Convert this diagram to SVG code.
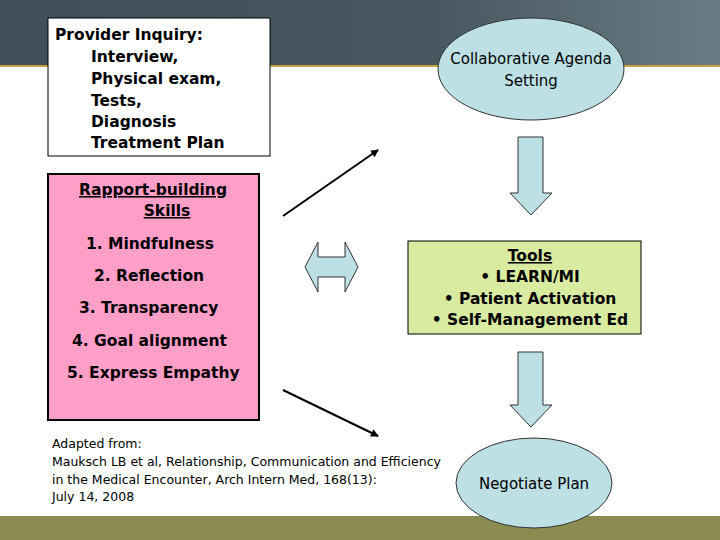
<svg xmlns="http://www.w3.org/2000/svg" width="720" height="540" viewBox="0 0 720 540">
<defs>
<linearGradient id="hdr" x1="0" y1="0" x2="1" y2="0"><stop offset="0" stop-color="#3e4f5a"/><stop offset="0.6" stop-color="#46575f"/><stop offset="1" stop-color="#6a7c84"/></linearGradient>
<marker id="ah" markerWidth="8" markerHeight="8" refX="7" refY="4" orient="auto" markerUnits="userSpaceOnUse"><path d="M0,0 L8,4 L0,8 z" fill="#000"/></marker>
</defs>
<style>
.b{font-family:"DejaVu Sans",Verdana,sans-serif;font-weight:bold;font-size:15.5px;fill:#000}
.n{font-family:"DejaVu Sans",Verdana,sans-serif;font-size:15px;fill:#000}
.s{font-family:"DejaVu Sans",Verdana,sans-serif;font-size:12.5px;fill:#000}
.sh{stroke:#000;stroke-width:2}
.blue{fill:#bde0e4;stroke:#333;stroke-width:1}
</style>
<rect width="720" height="540" fill="#fff"/>
<rect width="720" height="65" fill="url(#hdr)"/>
<rect y="65" width="720" height="2" fill="#c8a040"/>
<rect y="516" width="720" height="24" fill="#8a8c52"/>
<g id="provider">
<rect x="48" y="18" width="222" height="138" fill="#fff" stroke="#000"/>
<text class="b" x="55" y="40">Provider Inquiry:</text>
<text class="b" x="91" y="62">Interview,</text>
<text class="b" x="91" y="84">Physical exam,</text>
<text class="b" x="91" y="106">Tests,</text>
<text class="b" x="91" y="127">Diagnosis</text>
<text class="b" x="91" y="148">Treatment Plan</text>
</g>
<g id="agenda">
<ellipse class="blue" cx="531" cy="69" rx="93" ry="51"/>
<text class="n" x="531" y="64" text-anchor="middle">Collaborative Agenda</text>
<text class="n" x="531" y="86" text-anchor="middle">Setting</text>
</g>
<g id="rapport">
<rect x="48" y="174" width="211" height="246" fill="#ff9fc8" stroke="#000" stroke-width="2"/>
<text class="b" x="153" y="195" text-anchor="middle" text-decoration="underline">Rapport-building</text>
<text class="b" x="167" y="216" text-anchor="middle" text-decoration="underline">Skills</text>
<text class="b" x="86" y="249">1. Mindfulness</text>
<text class="b" x="94" y="281">2. Reflection</text>
<text class="b" x="79" y="313">3. Transparency</text>
<text class="b" x="72" y="346">4. Goal alignment</text>
<text class="b" x="67" y="378">5. Express Empathy</text>
</g>
<g id="tools">
<rect x="408" y="241" width="233" height="93" fill="#d9eba0" stroke="#000"/>
<text class="b" x="530" y="261" text-anchor="middle" text-decoration="underline">Tools</text>
<text class="b" x="530" y="282" text-anchor="middle">• LEARN/MI</text>
<text class="b" x="530" y="304" text-anchor="middle">• Patient Activation</text>
<text class="b" x="530" y="325" text-anchor="middle">• Self-Management Ed</text>
</g>
<g id="negotiate">
<ellipse class="blue" cx="534" cy="483" rx="78" ry="45"/>
<text class="n" x="534" y="489" text-anchor="middle">Negotiate Plan</text>
</g>
<g id="citation">
<text class="s" x="52" y="448">Adapted from:</text>
<text class="s" x="52" y="466">Mauksch LB et al, Relationship, Communication and Efficiency</text>
<text class="s" x="52" y="484">in the Medical Encounter, Arch Intern Med, 168(13):</text>
<text class="s" x="52" y="501">July 14, 2008</text>
</g>
<g id="connectors">
<line class="sh" x1="283" y1="216" x2="378" y2="150" marker-end="url(#ah)"/>
<line class="sh" x1="283" y1="390" x2="378" y2="436" marker-end="url(#ah)"/>
<path class="blue" d="M518,137 H543 V193 H552 L531,215 L510,193 H518 Z"/>
<path class="blue" d="M518,352 H543 V405 H552 L531,427 L510,405 H518 Z"/>
<path class="blue" d="M305,267 L318,242 V257 H345 V242 L358,267 L345,292 V277 H318 V292 Z"/>
</g>
</svg>
